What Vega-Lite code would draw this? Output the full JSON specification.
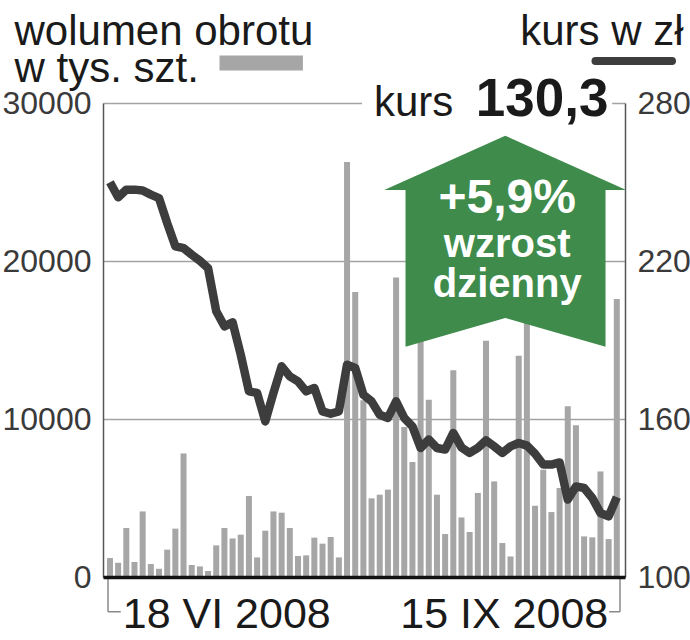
{
  "$schema": "https://vega.github.io/schema/vega-lite/v6.json",
  "width": 522,
  "height": 474,
  "autosize": "none",
  "padding": {"left": 103, "top": 103, "right": 65, "bottom": 63},
  "background": "white",
  "config": {"view": {"stroke": null}, "font": "Liberation Sans"},
  "datasets": {
    "quotes": [
      {"d": 1, "vol": 1200, "price": 249.9},
      {"d": 2, "vol": 900, "price": 244.2},
      {"d": 3, "vol": 3100, "price": 247.1},
      {"d": 4, "vol": 950, "price": 247.1},
      {"d": 5, "vol": 4150, "price": 246.8},
      {"d": 6, "vol": 820, "price": 245.2},
      {"d": 7, "vol": 520, "price": 243.9},
      {"d": 8, "vol": 1730, "price": 234.4},
      {"d": 9, "vol": 3060, "price": 225.6},
      {"d": 10, "vol": 7820, "price": 224.9},
      {"d": 11, "vol": 760, "price": 222.4},
      {"d": 12, "vol": 670, "price": 220.1},
      {"d": 13, "vol": 380, "price": 217.3},
      {"d": 14, "vol": 2000, "price": 200.9},
      {"d": 15, "vol": 3100, "price": 195.2},
      {"d": 16, "vol": 2440, "price": 196.7},
      {"d": 17, "vol": 2680, "price": 184.4},
      {"d": 18, "vol": 5130, "price": 170.5},
      {"d": 19, "vol": 1240, "price": 169.9},
      {"d": 20, "vol": 2930, "price": 159.1},
      {"d": 21, "vol": 4150, "price": 169.9},
      {"d": 22, "vol": 4070, "price": 180.0},
      {"d": 23, "vol": 3100, "price": 176.2},
      {"d": 24, "vol": 1330, "price": 174.3},
      {"d": 25, "vol": 1370, "price": 170.5},
      {"d": 26, "vol": 2490, "price": 171.8},
      {"d": 27, "vol": 2110, "price": 162.9},
      {"d": 28, "vol": 2530, "price": 162.0},
      {"d": 29, "vol": 1240, "price": 162.9},
      {"d": 30, "vol": 26270, "price": 180.6},
      {"d": 31, "vol": 18040, "price": 179.4},
      {"d": 32, "vol": 11180, "price": 169.2},
      {"d": 33, "vol": 4980, "price": 166.7},
      {"d": 34, "vol": 5210, "price": 161.6},
      {"d": 35, "vol": 5530, "price": 160.4},
      {"d": 36, "vol": 18960, "price": 166.7},
      {"d": 37, "vol": 9490, "price": 160.4},
      {"d": 38, "vol": 7280, "price": 157.2},
      {"d": 39, "vol": 16000, "price": 149.0},
      {"d": 40, "vol": 11220, "price": 152.2},
      {"d": 41, "vol": 5210, "price": 149.0},
      {"d": 42, "vol": 2720, "price": 148.4},
      {"d": 43, "vol": 13080, "price": 154.7},
      {"d": 44, "vol": 3770, "price": 149.2},
      {"d": 45, "vol": 2850, "price": 147.1},
      {"d": 46, "vol": 5320, "price": 149.0},
      {"d": 47, "vol": 14960, "price": 151.9},
      {"d": 48, "vol": 6050, "price": 149.6},
      {"d": 49, "vol": 2150, "price": 147.1},
      {"d": 50, "vol": 1300, "price": 149.6},
      {"d": 51, "vol": 14010, "price": 150.9},
      {"d": 52, "vol": 17000, "price": 149.9},
      {"d": 53, "vol": 4510, "price": 146.8},
      {"d": 54, "vol": 6790, "price": 142.7},
      {"d": 55, "vol": 4110, "price": 142.7},
      {"d": 56, "vol": 5630, "price": 143.5},
      {"d": 57, "vol": 10800, "price": 129.4},
      {"d": 58, "vol": 9600, "price": 134.4},
      {"d": 59, "vol": 2570, "price": 133.8},
      {"d": 60, "vol": 2510, "price": 130.0},
      {"d": 61, "vol": 6680, "price": 124.3},
      {"d": 62, "vol": 2400, "price": 123.0},
      {"d": 63, "vol": 17590, "price": 130.3}
    ]
  },
  "layer": [
    {
      "data": {"name": "quotes"},
      "mark": {"type": "bar", "width": 6, "color": "#a6a6a6"},
      "encoding": {
        "x": {"field": "d", "type": "quantitative", "scale": {"domain": [0.76, 63.39], "nice": false, "zero": false},
          "axis": {"title": null, "labels": false, "ticks": false, "grid": false, "domainColor": "#111111", "domainWidth": 3.5, "zindex": 1}},
        "y": {"field": "vol", "type": "quantitative", "scale": {"domain": [0, 30000], "nice": false},
          "axis": {"orient": "left", "values": [0, 10000, 20000, 30000], "format": "d", "grid": true, "gridColor": "#a3a3a3", "gridWidth": 1.5,
            "ticks": false, "labelPadding": 12, "labelFontSize": 32, "labelColor": "#3a3a3a", "labelFont": "Liberation Sans",
            "domainColor": "#555555", "domainWidth": 1.5,
            "title": ["wolumen obrotu", "w tys. szt."], "titleAngle": 0, "titleAlign": "left", "titleBaseline": "alphabetic",
            "titleX": -89, "titleY": -59, "titleFontSize": 42, "titleFontWeight": "normal", "titleColor": "#1a1a1a",
            "titleFont": "Liberation Sans", "titleLineHeight": 37.5}}
      }
    },
    {
      "data": {"name": "quotes"},
      "mark": {"type": "line", "color": "#3d3d3d", "strokeWidth": 8.5, "strokeJoin": "round", "strokeCap": "butt"},
      "encoding": {
        "x": {"field": "d", "type": "quantitative", "scale": {"domain": [0.76, 63.39], "nice": false, "zero": false}},
        "y": {"field": "price", "type": "quantitative", "scale": {"domain": [100, 280], "nice": false, "zero": false},
          "axis": {"orient": "right", "values": [100, 160, 220, 280], "format": "d", "grid": false, "ticks": false,
            "labelPadding": 12, "labelFontSize": 32, "labelColor": "#3a3a3a", "labelFont": "Liberation Sans",
            "domainColor": "#555555", "domainWidth": 1.5,
            "title": "kurs w zł", "titleAngle": 0, "titleAlign": "right", "titleBaseline": "alphabetic",
            "titleX": 58, "titleY": -59, "titleFontSize": 42, "titleFontWeight": "normal", "titleColor": "#1a1a1a",
            "titleFont": "Liberation Sans"}}
      }
    },
    {
      "data": {"values": [{"d": 31.83, "d2": 62.43, "vol": 28670, "vol2": 31455}]},
      "mark": {"type": "rect", "color": "white"},
      "encoding": {
        "x": {"field": "d", "type": "quantitative", "scale": {"domain": [0.76, 63.39], "nice": false, "zero": false}},
        "x2": {"field": "d2"},
        "y": {"field": "vol", "type": "quantitative", "scale": {"domain": [0, 30000], "nice": false}, "axis": null},
        "y2": {"field": "vol2"}
      }
    },
    {
      "data": {"values": [{"d": 43.0, "vol": 29177, "label": "kurs"}]},
      "mark": {"type": "text", "align": "right", "baseline": "alphabetic", "fontSize": 42, "color": "#1a1a1a", "font": "Liberation Sans"},
      "encoding": {
        "x": {"field": "d", "type": "quantitative", "scale": {"domain": [0.76, 63.39], "nice": false, "zero": false}},
        "y": {"field": "vol", "type": "quantitative", "scale": {"domain": [0, 30000], "nice": false}, "axis": null},
        "text": {"field": "label"}
      }
    },
    {
      "data": {"values": [{"d": 45.75, "vol": 29177, "label": "130,3"}]},
      "mark": {"type": "text", "align": "left", "baseline": "alphabetic", "fontSize": 53, "fontWeight": "bold", "color": "#1a1a1a", "font": "Liberation Sans"},
      "encoding": {
        "x": {"field": "d", "type": "quantitative", "scale": {"domain": [0.76, 63.39], "nice": false, "zero": false}},
        "y": {"field": "vol", "type": "quantitative", "scale": {"domain": [0, 30000], "nice": false}, "axis": null},
        "text": {"field": "label"}
      }
    },
    {
      "data": {"values": [{"d": 49.35, "vol": 21240}]},
      "mark": {"type": "point", "shape": "M0,-0.874 L1,-0.425 L0.829,-0.425 L0.829,0.87 L0,0.633 L-0.824,0.87 L-0.824,-0.425 L-1,-0.425 Z",
        "size": 58564, "filled": true, "color": "#3f8b4b", "opacity": 1, "strokeWidth": 0},
      "encoding": {
        "x": {"field": "d", "type": "quantitative", "scale": {"domain": [0.76, 63.39], "nice": false, "zero": false}},
        "y": {"field": "vol", "type": "quantitative", "scale": {"domain": [0, 30000], "nice": false}, "axis": null}
      }
    },
    {
      "data": {"values": [{"d": 49.59, "vol": 23038, "label": "+5,9%"}]},
      "mark": {"type": "text", "align": "center", "baseline": "alphabetic", "fontSize": 48, "fontWeight": "bold", "color": "white", "font": "Liberation Sans"},
      "encoding": {
        "x": {"field": "d", "type": "quantitative", "scale": {"domain": [0.76, 63.39], "nice": false, "zero": false}},
        "y": {"field": "vol", "type": "quantitative", "scale": {"domain": [0, 30000], "nice": false}, "axis": null},
        "text": {"field": "label"}
      }
    },
    {
      "data": {"values": [{"d": 49.59, "vol": 20272, "label": "wzrost"}, {"d": 49.59, "vol": 17721, "label": "dzienny"}]},
      "mark": {"type": "text", "align": "center", "baseline": "alphabetic", "fontSize": 40, "fontWeight": "bold", "color": "white", "font": "Liberation Sans"},
      "encoding": {
        "x": {"field": "d", "type": "quantitative", "scale": {"domain": [0.76, 63.39], "nice": false, "zero": false}},
        "y": {"field": "vol", "type": "quantitative", "scale": {"domain": [0, 30000], "nice": false}, "axis": null},
        "text": {"field": "label"}
      }
    },
    {
      "data": {"values": [{"d": 14.4, "d2": 24.6, "vol": 32531}]},
      "mark": {"type": "rule", "color": "#a6a6a6", "strokeWidth": 15, "strokeCap": "butt"},
      "encoding": {
        "x": {"field": "d", "type": "quantitative", "scale": {"domain": [0.76, 63.39], "nice": false, "zero": false}},
        "x2": {"field": "d2"},
        "y": {"field": "vol", "type": "quantitative", "scale": {"domain": [0, 30000], "nice": false}, "axis": null}
      }
    },
    {
      "data": {"values": [{"d": 60.39, "d2": 69.75, "vol": 32658}]},
      "mark": {"type": "rule", "color": "#3d3d3d", "strokeWidth": 8, "strokeCap": "round"},
      "encoding": {
        "x": {"field": "d", "type": "quantitative", "scale": {"domain": [0.76, 63.39], "nice": false, "zero": false}},
        "x2": {"field": "d2"},
        "y": {"field": "vol", "type": "quantitative", "scale": {"domain": [0, 30000], "nice": false}, "axis": null}
      }
    },
    {
      "data": {"values": [
        {"d": 0.76, "d2": 0.76, "vol": 0, "vol2": -2200},
        {"d": 0.76, "d2": 2.32, "vol": -2200, "vol2": -2200},
        {"d": 63.39, "d2": 63.39, "vol": 0, "vol2": -2200},
        {"d": 62.07, "d2": 63.39, "vol": -2200, "vol2": -2200}
      ]},
      "mark": {"type": "rule", "color": "#8a8a8a", "strokeWidth": 1.5},
      "encoding": {
        "x": {"field": "d", "type": "quantitative", "scale": {"domain": [0.76, 63.39], "nice": false, "zero": false}},
        "x2": {"field": "d2"},
        "y": {"field": "vol", "type": "quantitative", "scale": {"domain": [0, 30000], "nice": false}, "axis": null},
        "y2": {"field": "vol2"}
      }
    },
    {
      "data": {"values": [{"d": 2.56, "vol": -3228, "label": "18 VI 2008"}]},
      "mark": {"type": "text", "align": "left", "baseline": "alphabetic", "fontSize": 43, "color": "#1a1a1a", "font": "Liberation Sans"},
      "encoding": {
        "x": {"field": "d", "type": "quantitative", "scale": {"domain": [0.76, 63.39], "nice": false, "zero": false}},
        "y": {"field": "vol", "type": "quantitative", "scale": {"domain": [0, 30000], "nice": false}, "axis": null},
        "text": {"field": "label"}
      }
    },
    {
      "data": {"values": [{"d": 61.95, "vol": -3228, "label": "15 IX 2008"}]},
      "mark": {"type": "text", "align": "right", "baseline": "alphabetic", "fontSize": 43, "color": "#1a1a1a", "font": "Liberation Sans"},
      "encoding": {
        "x": {"field": "d", "type": "quantitative", "scale": {"domain": [0.76, 63.39], "nice": false, "zero": false}},
        "y": {"field": "vol", "type": "quantitative", "scale": {"domain": [0, 30000], "nice": false}, "axis": null},
        "text": {"field": "label"}
      }
    }
  ],
  "resolve": {"scale": {"y": "independent"}}
}
